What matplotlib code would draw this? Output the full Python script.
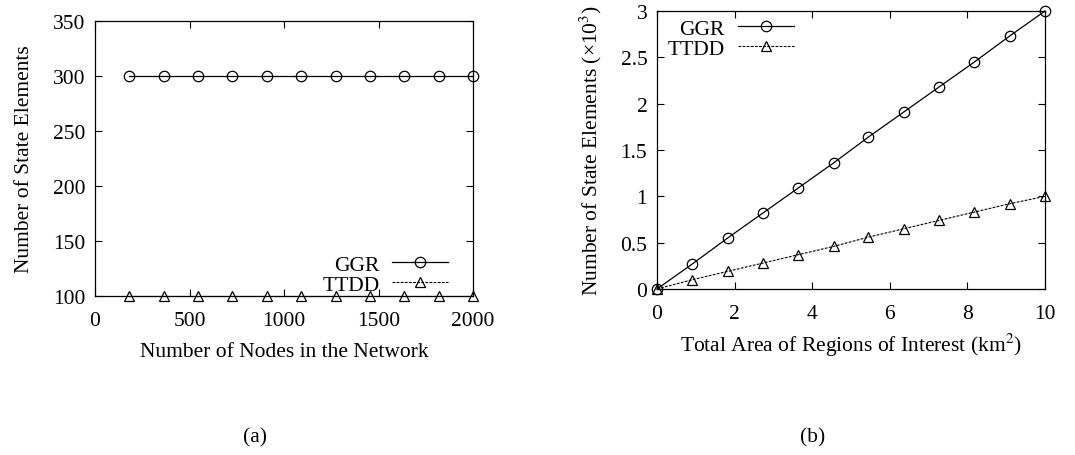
import matplotlib
matplotlib.use("Agg")
import matplotlib.pyplot as plt

plt.rcParams['font.family'] = ['Liberation Serif', 'DejaVu Serif']
plt.rcParams['mathtext.fontset'] = 'stix'

# ---- data (a) ----
nodes = [182, 364, 545, 727, 909, 1091, 1273, 1455, 1636, 1818, 2000]
ggr_a = [300, 300, 300, 300, 300, 300, 300, 300, 300, 300, 300]
ttdd_a = [100, 100, 100, 100, 100, 100, 100, 100, 100, 100, 100]
xticks_a = [0, 500, 1000, 1500, 2000]
yticks_a = [100, 150, 200, 250, 300, 350]

# ---- data (b) ----
area = [0, 0.91, 1.82, 2.73, 3.64, 4.55, 5.45, 6.36, 7.27, 8.18, 9.09, 10]
ggr_b = [0, 0.27, 0.55, 0.82, 1.09, 1.36, 1.64, 1.91, 2.18, 2.45, 2.73, 3.0]
ttdd_b = [0, 0.10, 0.19, 0.28, 0.37, 0.46, 0.56, 0.65, 0.74, 0.83, 0.92, 1.0]
xticks_b = [0, 2, 4, 6, 8, 10]
yticks_b = [0, 0.5, 1, 1.5, 2, 2.5, 3]
yticklabels_b = ['0', '0.5', '1', '1.5', '2', '2.5', '3']

FS = 15.5
W, H = 1075, 456
fig = plt.figure(figsize=(W / 100, H / 100), dpi=100)

def frac(x0, y0, x1, y1):
    return [x0 / W, 1 - y1 / H, (x1 - x0) / W, (y1 - y0) / H]

axa = fig.add_axes(frac(95, 22, 473, 297))
axb = fig.add_axes(frac(657, 12, 1045, 290))

common_ggr = dict(color='black', lw=0.9, marker='o', markersize=7.5,
                  markerfacecolor='none', markeredgecolor='black',
                  markeredgewidth=0.9, clip_on=False)
common_ttdd = dict(color='black', lw=0.8, linestyle=(0, (2.5, 1.2)), marker='^',
                   markersize=6.5, markerfacecolor='none', markeredgecolor='black',
                   markeredgewidth=0.9, clip_on=False)

for ax in (axa, axb):
    ax.tick_params(direction='in', length=5, width=0.8, top=True, right=True,
                   labelsize=FS)
    ax.tick_params(axis='x', pad=10.5)
    ax.tick_params(axis='y', pad=7)
    for s in ax.spines.values():
        s.set_linewidth(0.9)

# (a)
axa.plot(nodes, ggr_a, label='GGR', **common_ggr)
axa.plot(nodes, ttdd_a, label='TTDD', **common_ttdd)
axa.set_xlim(0, 2000)
axa.set_ylim(100, 350)
axa.set_xticks(xticks_a)
axa.set_yticks(yticks_a)
axa.set_xlabel('Number of Nodes in the Network', fontsize=FS)
axa.set_ylabel('Number of State Elements', fontsize=FS)
axa.xaxis.set_label_coords(0.5, -0.167)
axa.yaxis.set_label_coords(-0.161, 0.5)
axa.legend(loc='lower right', bbox_to_anchor=(0.935, 0.005), frameon=False,
           markerfirst=False, fontsize=FS, handlelength=2.6, handletextpad=0.6,
           labelspacing=0.0, borderpad=0, borderaxespad=0, numpoints=1)

# (b)
axb.plot(area, ggr_b, label='GGR', **common_ggr)
axb.plot(area, ttdd_b, label='TTDD', **common_ttdd)
axb.set_xlim(0, 10)
axb.set_ylim(0, 3)
axb.set_xticks(xticks_b)
axb.set_yticks(yticks_b)
axb.set_yticklabels(yticklabels_b)
axb.set_xlabel('Total Area of Regions of Interest (km$^2$)', fontsize=FS)
axb.set_ylabel('Number of State Elements (×10$^3$)', fontsize=FS)
axb.xaxis.set_label_coords(0.5, -0.15)
axb.yaxis.set_label_coords(-0.137, 0.5)
axb.legend(loc='upper right', bbox_to_anchor=(0.352, 0.972), frameon=False,
           markerfirst=False, fontsize=FS, handlelength=2.6, handletextpad=0.6,
           labelspacing=0.0, borderpad=0, borderaxespad=0, numpoints=1)

fig.text(255 / W, 1 - 438 / H, '(a)', ha='center', va='center', fontsize=FS)
fig.text(813 / W, 1 - 438 / H, '(b)', ha='center', va='center', fontsize=FS)

fig.savefig('out.png', dpi=100)
